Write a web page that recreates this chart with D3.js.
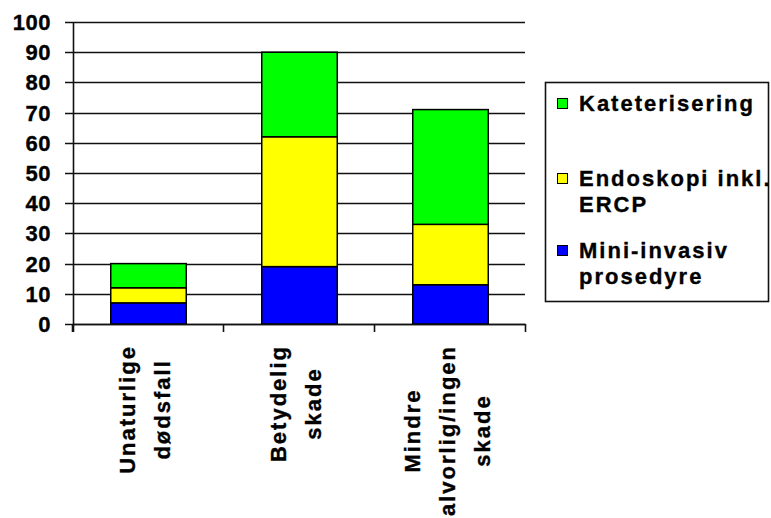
<!DOCTYPE html>
<html>
<head>
<meta charset="utf-8">
<script src="https://cdn.jsdelivr.net/npm/d3@7"></script>
<style>
  html, body { margin: 0; padding: 0; background: #fff; }
  svg { display: block; }
  text { font-family: "Liberation Sans", Arial, sans-serif; font-weight: bold; font-size: 22px; letter-spacing: 2px; fill: #000; stroke: #000; stroke-width: 0.35px; }
  .tick-label { letter-spacing: 0.5px; }
</style>
</head>
<body>
<svg id="chart" width="771" height="518"></svg>
<script>
// Categories (each entry is the label split into its display lines)
const categories = [
  ["Unaturlige", "dødsfall"],
  ["Betydelig", "skade"],
  ["Mindre", "alvorlig/ingen", "skade"]
];

// Series values, stacked bottom to top
const miniInvasiv = [7, 19, 13];
const endoskopi = [5, 43, 20];
const kateterisering = [8, 28, 38];

// Series fills, bottom to top
const seriesColors = ["#0000ff", "#ffff00", "#00ff00"];

// Legend entries, top to bottom, split into lines
const legendLines = [
  ["Kateterisering"],
  ["Endoskopi inkl.", "ERCP"],
  ["Mini-invasiv", "prosedyre"]
];
const legendColors = ["#00ff00", "#ffff00", "#0000ff"];

// Y tick values
const yTicks = [0, 10, 20, 30, 40, 50, 60, 70, 80, 90, 100];

const svg = d3.select("#chart");

const plot = { left: 73, right: 526, top: 22, bottom: 324 };

const y = d3.scaleLinear().domain([0, 100]).range([plot.bottom, plot.top]);
const x = d3.scaleBand()
  .domain(d3.range(categories.length))
  .range([plot.left, plot.right])
  .padding(0);

// Gridlines (they run through the tick marks left of the axis)
svg.append("g").selectAll("line")
  .data(yTicks)
  .join("line")
  .attr("x1", plot.left - 8)
  .attr("x2", plot.right - 1)
  .attr("y1", d => Math.round(y(d)) + 0.5)
  .attr("y2", d => Math.round(y(d)) + 0.5)
  .attr("stroke", "#111")
  .attr("stroke-width", 1.6);

// Y tick labels
svg.append("g").selectAll("text")
  .data(yTicks)
  .join("text")
  .attr("class", "tick-label")
  .attr("x", 51)
  .attr("y", d => y(d))
  .attr("dy", "0.36em")
  .attr("text-anchor", "end")
  .text(d => d);

// Stacked bars
const rows = categories.map((c, i) => ({
  i,
  mini: miniInvasiv[i],
  endo: endoskopi[i],
  kat: kateterisering[i]
}));
const stack = d3.stack().keys(["mini", "endo", "kat"]);
const layers = stack(rows);

const barW = x.bandwidth() * 0.5;
svg.append("g").selectAll("g")
  .data(layers)
  .join("g")
  .attr("fill", (d, k) => seriesColors[k])
  .selectAll("rect")
  .data(d => d)
  .join("rect")
  .attr("x", d => x(d.data.i) + (x.bandwidth() - barW) / 2)
  .attr("width", barW)
  .attr("y", d => y(d[1]))
  .attr("height", d => y(d[0]) - y(d[1]))
  .attr("stroke", "#000")
  .attr("stroke-width", 1.5);

// Axes
const axes = svg.append("g").attr("stroke", "#111").attr("stroke-width", 1.6);
axes.append("line")
  .attr("x1", plot.left + 0.5).attr("x2", plot.left + 0.5)
  .attr("y1", plot.top).attr("y2", plot.bottom + 8);
axes.append("line")
  .attr("x1", plot.left).attr("x2", plot.right)
  .attr("y1", plot.bottom + 0.5).attr("y2", plot.bottom + 0.5);
// Category boundary ticks
const bounds = d3.range(categories.length + 1).map(i => i < categories.length ? x(i) : plot.right);
axes.selectAll(".ctick")
  .data(bounds)
  .join("line")
  .attr("x1", d => Math.round(d) - 0.5).attr("x2", d => Math.round(d) - 0.5)
  .attr("y1", plot.bottom).attr("y2", plot.bottom + 8);

// Category labels, rotated, lines centred, block hanging below the axis
const lineStep = 35;
const labelTop = 345;
categories.forEach((lines, i) => {
  const cx = x(i) + x.bandwidth() / 2 - 2;
  const g = svg.append("g");
  const texts = lines.map((t, j) => {
    const off = (j - (lines.length - 1) / 2) * lineStep + 6;
    return g.append("text")
      .attr("text-anchor", "middle")
      .text(t)
      .datum(cx + off);
  });
  const maxLen = d3.max(texts, t => t.node().getComputedTextLength());
  const cy = labelTop + maxLen / 2;
  texts.forEach(t => {
    const bx = t.datum();
    t.attr("transform", `translate(${bx},${cy}) rotate(-90)`);
  });
});

// Legend
const legend = svg.append("g");
legend.append("rect")
  .attr("x", 545.5).attr("y", 82.5)
  .attr("width", 223).attr("height", 219)
  .attr("fill", "#fff")
  .attr("stroke", "#111")
  .attr("stroke-width", 1.6);

const itemBaselines = [111, 186, 258];
const legendLineStep = 26;
legendLines.forEach((lines, k) => {
  const by = itemBaselines[k];
  legend.append("rect")
    .attr("x", 557.5).attr("y", by - 12.5)
    .attr("width", 10).attr("height", 10)
    .attr("fill", legendColors[k])
    .attr("stroke", "#000")
    .attr("stroke-width", 1);
  lines.forEach((t, j) => {
    legend.append("text")
      .attr("x", 579)
      .attr("y", by + j * legendLineStep)
      .text(t);
  });
});
</script>
</body>
</html>
